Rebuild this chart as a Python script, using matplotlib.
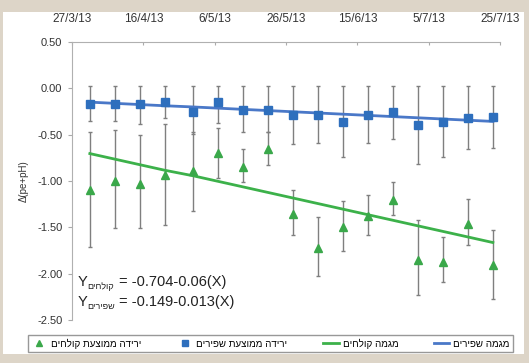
import datetime as dt
import matplotlib
matplotlib.use('Agg')
import matplotlib.pyplot as plt
from matplotlib.patches import Rectangle

plt.rcParams['font.family'] = ['Liberation Sans', 'DejaVu Sans']

# sampling dates (approx. weekly)
dates = ['1/4/13', '8/4/13', '15/4/13', '22/4/13', '30/4/13', '7/5/13', '14/5/13',
         '21/5/13', '28/5/13', '4/6/13', '11/6/13', '18/6/13', '25/6/13', '2/7/13',
         '9/7/13', '16/7/13', '23/7/13']

# mean drop - clean water (שפירים)
clean_mean = [-0.17, -0.17, -0.17, -0.15, -0.25, -0.15, -0.23, -0.23, -0.29,
              -0.29, -0.36, -0.29, -0.26, -0.40, -0.36, -0.32, -0.31]
clean_hi = [0.02, 0.02, 0.02, 0.02, 0.02, 0.02, 0.02, 0.02, 0.02,
            0.02, 0.02, 0.02, 0.02, 0.02, 0.02, 0.02, 0.02]
clean_lo = [-0.35, -0.35, -0.38, -0.32, -0.49, -0.37, -0.47, -0.47, -0.60,
            -0.59, -0.74, -0.59, -0.55, -0.82, -0.74, -0.65, -0.64]

# mean drop - effluent (קולחים)
eff_mean = [-1.10, -1.00, -1.03, -0.94, -0.89, -0.70, -0.85, -0.66, -1.36,
            -1.72, -1.50, -1.38, -1.21, -1.85, -1.87, -1.46, -1.91]
eff_hi = [-0.47, -0.45, -0.50, -0.38, -0.47, -0.43, -0.65, -0.47, -1.10,
          -1.39, -1.22, -1.15, -1.01, -1.42, -1.60, -1.19, -1.53]
eff_lo = [-1.71, -1.51, -1.51, -1.48, -1.32, -0.97, -1.01, -0.83, -1.58,
          -2.03, -1.75, -1.58, -1.37, -2.23, -2.09, -1.69, -2.27]

# trend lines Y = a + b*X, X = sample index
eff_trend = (-0.704, -0.06)
clean_trend = (-0.149, -0.013)


def heb(s):
    # matplotlib has no bidi support, flip the Hebrew for display
    return s[::-1]


x = [dt.datetime.strptime(d, '%d/%m/%y') for d in dates]
idx = list(range(len(x)))

W, H = 529, 363
fig = plt.figure(figsize=(W / 100, H / 100), dpi=100)
fig.patch.set_facecolor('#ddd5c8')
fig.add_artist(Rectangle((3 / W, 1 - 354 / H), 521 / W, 342 / H,
                         transform=fig.transFigure, facecolor='white',
                         edgecolor='none', zorder=-10))

ax = fig.add_axes([72 / W, 1 - 320 / H, 428 / W, 278 / H])
ax.set_facecolor('none')
ax.set_zorder(1)

grey = '#7f7f7f'
ax.errorbar(x, eff_mean,
            yerr=[[m - l for m, l in zip(eff_mean, eff_lo)],
                  [h - m for m, h in zip(eff_mean, eff_hi)]],
            fmt='none', ecolor=grey, elinewidth=1, capsize=1.5, capthick=1, zorder=2)
ax.errorbar(x, clean_mean,
            yerr=[[m - l for m, l in zip(clean_mean, clean_lo)],
                  [h - m for m, h in zip(clean_mean, clean_hi)]],
            fmt='none', ecolor=grey, elinewidth=1, capsize=1.5, capthick=1, zorder=2)

green = '#3aa84a'
blue = '#2e6fbd'
eff_line = [eff_trend[0] + eff_trend[1] * i for i in idx]
clean_line = [clean_trend[0] + clean_trend[1] * i for i in idx]
l_clean, = ax.plot(x, clean_line, color='#4a78c8', lw=2, zorder=3)
l_eff, = ax.plot(x, eff_line, color='#3cb14a', lw=2, zorder=3)
m_clean, = ax.plot(x, clean_mean, ls='none', marker='s', ms=5.5, color=blue, zorder=4)
m_eff, = ax.plot(x, eff_mean, ls='none', marker='^', ms=5.5, color=green, zorder=4)

yt = [0.5, 0, -0.5, -1, -1.5, -2, -2.5]
ax.set_ylim(-2.5, 0.5)
ax.set_yticks(yt)
ax.set_yticklabels(['%.2f' % v for v in yt])
ax.set_xlim(dt.datetime(2013, 3, 27), dt.datetime(2013, 7, 25))
xt = [dt.datetime(2013, 3, 27) + dt.timedelta(days=20 * k) for k in range(7)]
ax.set_xticks(xt)
ax.set_xticklabels(['%d/%d/%s' % (d.day, d.month, d.strftime('%y')) for d in xt])
ax.xaxis.tick_top()
ax.tick_params(axis='x', direction='in', length=2, pad=12, labelsize=8.5,
               colors='#aaaaaa', labelcolor='#333333')
ax.tick_params(axis='y', direction='out', length=3, pad=4, labelsize=8,
               colors='#aaaaaa', labelcolor='#333333')
for s in ['bottom', 'right']:
    ax.spines[s].set_visible(False)
for s in ['top', 'left']:
    ax.spines[s].set_color('#b0b0b0')
ax.set_ylabel('Δ(pe+pH)', fontsize=7, color='#333333', labelpad=6)

# regression equations
fig.text(78 / W, 1 - 286 / H, 'Y', fontsize=10.5, color='#222222')
fig.text(87 / W, 1 - 289 / H, heb('קולחים'), fontsize=6.5, color='#222222')
fig.text(119 / W, 1 - 286 / H, '= -0.704-0.06(X)', fontsize=10.5, color='#222222')
fig.text(78 / W, 1 - 306 / H, 'Y', fontsize=10.5, color='#222222')
fig.text(87 / W, 1 - 309 / H, heb('שפירים'), fontsize=6.5, color='#222222')
fig.text(119 / W, 1 - 306 / H, '= -0.149-0.013(X)', fontsize=10.5, color='#222222')

labels = [heb('ירידה ממוצעת קולחים'), heb('ירידה ממוצעת שפירים'),
          heb('מגמה קולחים'), heb('מגמה שפירים')]
leg = fig.legend([m_eff, m_clean, l_eff, l_clean], labels, ncol=4,
                 loc='lower left', mode='expand',
                 bbox_to_anchor=(28 / W, 1 - 352 / H, 485 / W, 22 / H),
                 fontsize=7, handlelength=1.6, handletextpad=0.4,
                 borderaxespad=0, borderpad=0.35, fancybox=False,
                 markerscale=0.8)
leg.get_frame().set_edgecolor('#7f7f7f')
leg.get_frame().set_linewidth(1)

fig.savefig('out.png', dpi=100, facecolor=fig.get_facecolor())
